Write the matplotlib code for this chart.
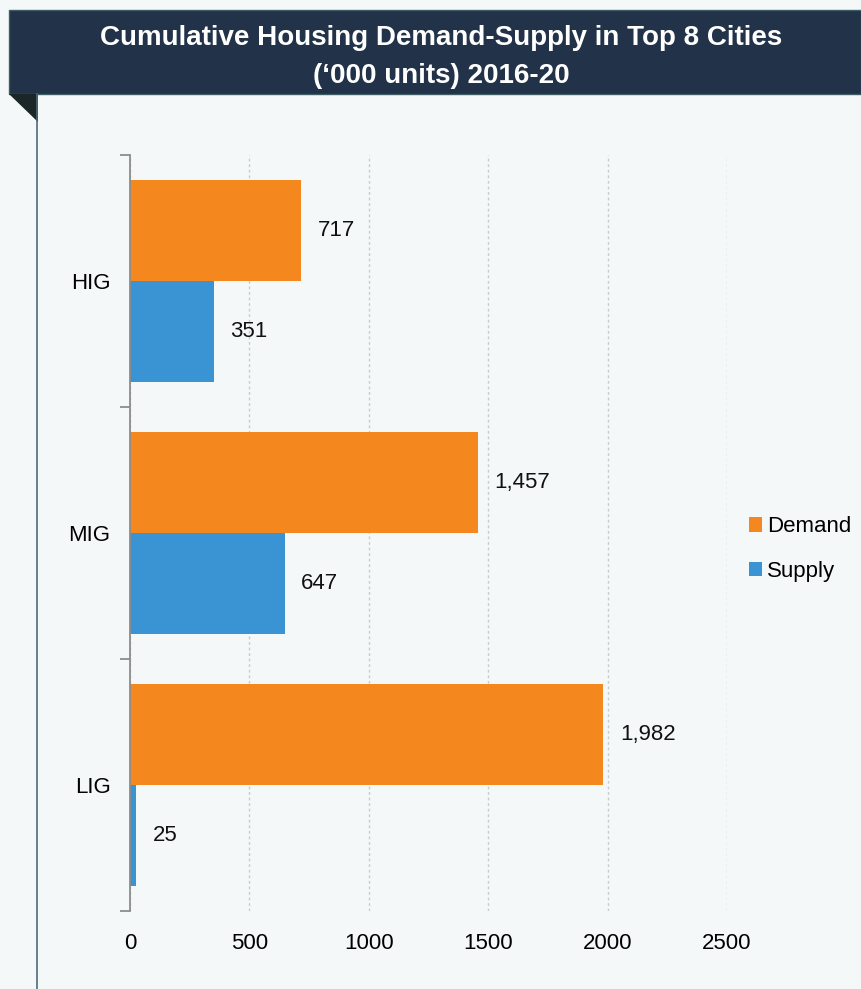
import numpy as np
import matplotlib.pyplot as plt
from matplotlib.patches import Rectangle, Polygon
from matplotlib.lines import Line2D

plt.rcParams['font.family'] = ['Liberation Sans', 'DejaVu Sans']

categories = ["HIG", "MIG", "LIG"]
demand = [717, 1457, 1982]
supply = [351, 647, 25]
xticks = [0, 500, 1000, 1500, 2000, 2500]

bg = "#F4F8F9"
orange = "#F5871F"
blue = "#3A93D2"
navy = "#213249"

W, H = 861, 989
fig = plt.figure(figsize=(W / 100, H / 100), dpi=100, facecolor=bg)

# title banner with a folded corner
fig.patches.append(Rectangle((9 / W, 1 - 94 / H), 1 - 9 / W, 84 / H, transform=fig.transFigure,
                             facecolor=navy, edgecolor="#3E5C63", lw=1.0))
fig.patches.append(Polygon([(9 / W, 1 - 94 / H), (38 / W, 1 - 94 / H), (38 / W, 1 - 122 / H)],
                           closed=True, transform=fig.transFigure,
                           facecolor="#1A2628", edgecolor="none"))
fig.lines.append(Line2D([36.5 / W, 36.5 / W], [0, 1 - 94 / H], transform=fig.transFigure,
                        color="#4F6B73", lw=1.2))
fig.text(441 / W, 1 - 57 / H, "Cumulative Housing Demand-Supply in Top 8 Cities\n(\u2018000 units) 2016-20",
         ha="center", va="center", color="white", fontsize=20, fontweight="bold", linespacing=1.62)

ax = fig.add_axes([130 / W, 1 - 911 / H, (727 - 130) / W, (911 - 155) / H])
ax.set_facecolor(bg)

y = np.arange(len(categories))
h = 0.4
bd = ax.barh(y - h / 2, demand, height=h, color=orange, label="Demand")
bs = ax.barh(y + h / 2, supply, height=h, color=blue, label="Supply")

for bars, vals in ((bd, demand), (bs, supply)):
    for b, v in zip(bars, vals):
        ax.text(v + 70, b.get_y() + b.get_height() / 2, f"{v:,}",
                ha="left", va="center", fontsize=16, color="#111111")

ax.set_ylim(len(categories) - 0.5, -0.5)
ax.set_xlim(0, 2500)
ax.set_yticks(y)
ax.set_yticklabels(categories)
ax.set_yticks(np.arange(len(categories) + 1) - 0.5, minor=True)
ax.tick_params(axis="y", which="major", length=0, pad=14, labelsize=16)
ax.tick_params(axis="y", which="minor", length=7, color="#8C8C8C", width=1.3)
ax.set_xticks(xticks)
ax.tick_params(axis="x", length=0, pad=16, labelsize=16)

ax.grid(axis="x", color="#C8CCCE", linestyle=(0, (2, 2)), lw=1)
ax.set_axisbelow(True)
for s in ("top", "right", "bottom"):
    ax.spines[s].set_visible(False)
ax.spines["left"].set_color("#8C8C8C")
ax.spines["left"].set_linewidth(1.3)

fig.legend(handles=[bd, bs], loc="center left", bbox_to_anchor=(729 / W, 1 - 549 / H),
           frameon=False, fontsize=16, handlelength=0.6, handleheight=0.6,
           handletextpad=0.2, labelspacing=1.05)

fig.savefig("out.png", dpi=100, facecolor=bg)
